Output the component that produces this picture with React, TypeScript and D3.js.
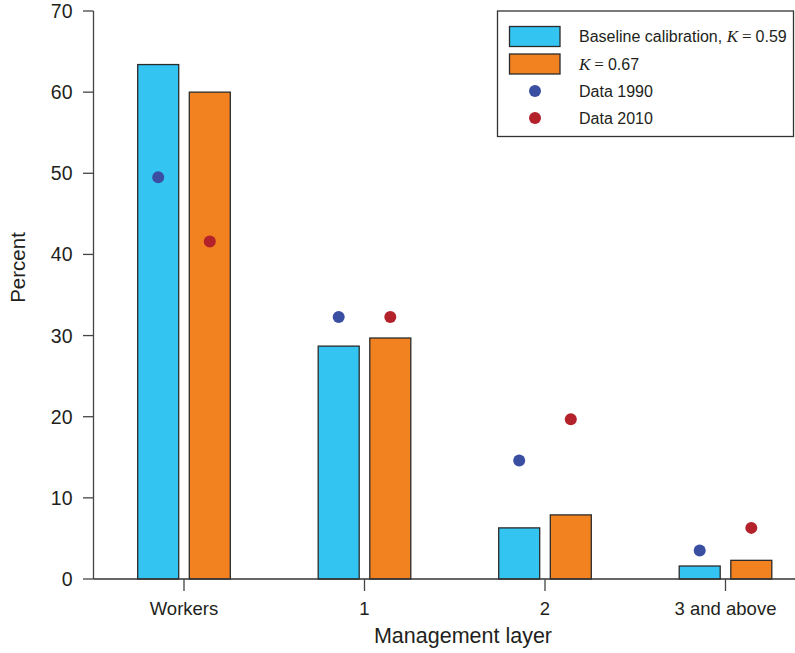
import React from "react";
import * as d3 from "d3";

const categories = ["Workers", "1", "2", "3 and above"];
const baseline = [63.4, 28.7, 6.3, 1.6];
const k067 = [60.0, 29.7, 7.9, 2.3];
const data1990 = [49.5, 32.3, 14.6, 3.5];
const data2010 = [41.6, 32.3, 19.7, 6.3];
const yTicks = [0, 10, 20, 30, 40, 50, 60, 70];

const W = 795;
const H = 653;
const BLUE = "#33c4f2";
const ORANGE = "#f2811f";
const DOT_BLUE = "#3a4fa2";
const DOT_RED = "#b3212a";
const INK = "#231f20";
const SANS = "'Liberation Sans', Arial, Helvetica, sans-serif";
const SERIF = "'Liberation Serif', 'Times New Roman', serif";

export default function App() {
  const y = d3.scaleLinear().domain([0, 70]).range([579, 11]);
  const x = d3.scalePoint<string>().domain(categories).range([184, 725.5]);
  const barW = 41;
  const gap = 10.6;
  const offBlue = -gap / 2 - barW;
  const offOrange = gap / 2;
  const axisX = 93.5;

  const KEq = (num: string) => (
    <>
      <tspan fontFamily={SERIF} fontStyle="italic" fontSize={17}>K</tspan>
      <tspan dx={4} fontFamily={SERIF} fontSize={17}>=</tspan>
      <tspan dx={4}>{num}</tspan>
    </>
  );

  return (
    <svg
      width={W}
      height={H}
      style={{ position: "fixed", left: 0, top: 0, background: "#fff" }}
      fontFamily={SANS}
    >
      <rect x={0} y={0} width={W} height={H} fill="#fff" />
      {/* bars */}
      {categories.map((c, i) => (
        <g key={c}>
          <rect
            x={(x(c) as number) + offBlue}
            y={y(baseline[i])}
            width={barW}
            height={y(0) - y(baseline[i])}
            fill={BLUE}
            stroke="#2b2b2b"
            strokeWidth={1.3}
          />
          <rect
            x={(x(c) as number) + offOrange}
            y={y(k067[i])}
            width={barW}
            height={y(0) - y(k067[i])}
            fill={ORANGE}
            stroke="#2b2b2b"
            strokeWidth={1.3}
          />
          <circle
            cx={(x(c) as number) + offBlue + barW / 2}
            cy={y(data1990[i])}
            r={6}
            fill={DOT_BLUE}
          />
          <circle
            cx={(x(c) as number) + offOrange + barW / 2}
            cy={y(data2010[i])}
            r={6}
            fill={DOT_RED}
          />
        </g>
      ))}
      {/* y axis */}
      <line x1={axisX} x2={axisX} y1={y(70)} y2={y(0)} stroke="#444" strokeWidth={1.3} />
      {yTicks.map((t) => (
        <g key={t}>
          <line x1={83} x2={axisX} y1={y(t)} y2={y(t)} stroke="#444" strokeWidth={1.3} />
          <text
            x={72.5}
            y={y(t)}
            dy="0.36em"
            textAnchor="end"
            fontSize={19.5}
            fill={INK}
          >
            {t}
          </text>
        </g>
      ))}
      {/* x axis */}
      <line x1={axisX} x2={W} y1={y(0)} y2={y(0)} stroke="#333" strokeWidth={1.5} />
      {categories.map((c) => (
        <g key={c}>
          <line
            x1={x(c) as number}
            x2={x(c) as number}
            y1={y(0)}
            y2={y(0) + 12}
            stroke="#444"
            strokeWidth={1.3}
          />
          <text x={x(c) as number} y={615} textAnchor="middle" fontSize={18.5} fill={INK}>
            {c}
          </text>
        </g>
      ))}
      <text x={463} y={643} textAnchor="middle" fontSize={21.5} fill={INK}>
        Management layer
      </text>
      <text
        transform={`translate(24.5, 267.5) rotate(-90)`}
        textAnchor="middle"
        fontSize={20.5}
        fill={INK}
      >
        Percent
      </text>
      {/* legend */}
      <rect x={497.5} y={11} width={296} height={125.5} fill="#fff" stroke="#333" strokeWidth={1.3} />
      <rect x={509.5} y={26.5} width={50.5} height={20} fill={BLUE} stroke="#2b2b2b" strokeWidth={1.3} />
      <rect x={509.5} y={54} width={50.5} height={20} fill={ORANGE} stroke="#2b2b2b" strokeWidth={1.3} />
      <circle cx={535} cy={91} r={6} fill={DOT_BLUE} />
      <circle cx={535} cy={118} r={6} fill={DOT_RED} />
      <text x={579} y={42} fontSize={16} fill={INK}>
        <tspan>Baseline calibration, </tspan>
        {KEq("0.59")}
      </text>
      <text x={579} y={69.5} fontSize={16} fill={INK}>
        {KEq("0.67")}
      </text>
      <text x={579} y={96.5} fontSize={16} fill={INK}>
        Data 1990
      </text>
      <text x={579} y={123.5} fontSize={16} fill={INK}>
        Data 2010
      </text>
    </svg>
  );
}
